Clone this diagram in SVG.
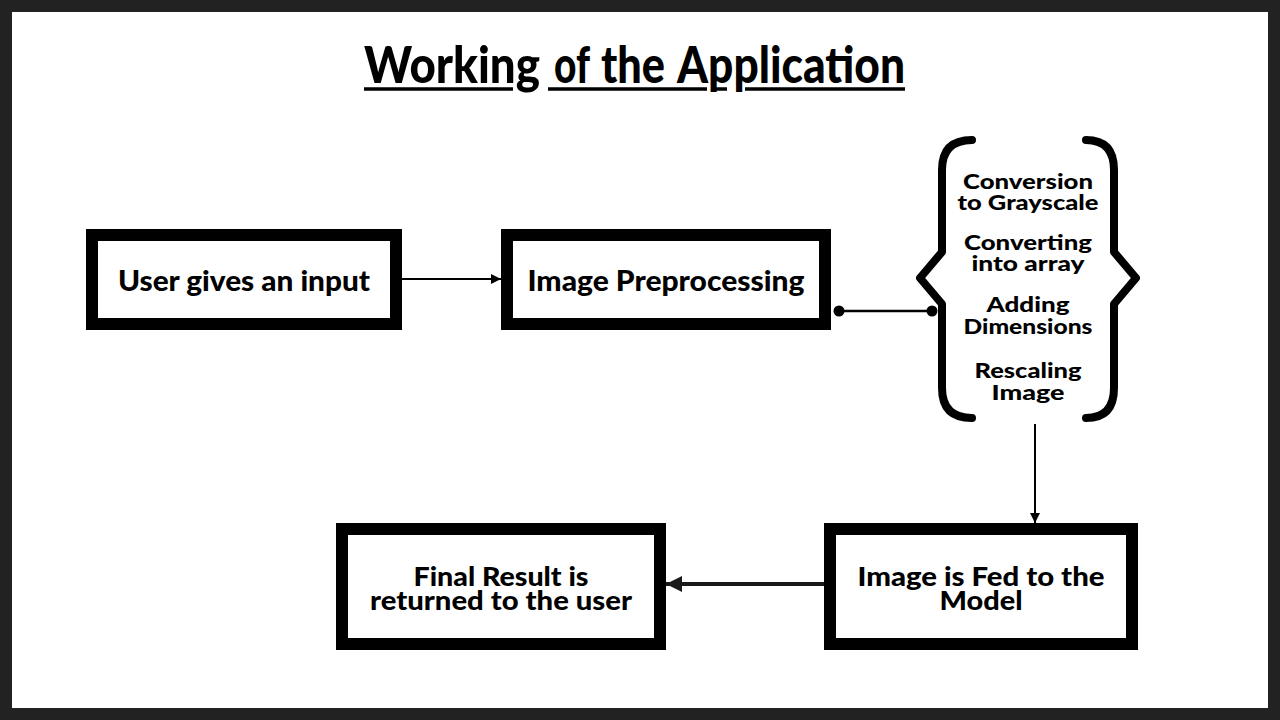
<svg xmlns="http://www.w3.org/2000/svg" width="1280" height="720" viewBox="0 0 1280 720">
<defs>
<style>
.box{fill:#fff;stroke:#000;stroke-width:12}
.t{font-family:Lato,"Liberation Sans",sans-serif;font-weight:900;fill:#000;text-anchor:middle}
.ts{font-family:Lato,"Liberation Sans",sans-serif;font-weight:900;fill:#000;font-size:51px}
.bt{font-size:28px}
.bt2{font-size:26px}
.st{font-size:21px}
.c{stroke:#000;fill:none}
</style>
<marker id="ah" viewBox="0 0 10 10" refX="10" refY="5" markerWidth="10" markerHeight="10" markerUnits="userSpaceOnUse" orient="auto">
<path d="M0,0 L10,5 L0,10 z" fill="#000"/>
</marker>
<marker id="ahb" viewBox="0 0 10 10" refX="10" refY="5" markerWidth="16" markerHeight="20" markerUnits="userSpaceOnUse" orient="auto">
<path d="M0,0 L10,5 L0,10 z" fill="#1a1a1a"/>
</marker>
</defs>
<rect x="0" y="0" width="1280" height="720" fill="#222"/>
<rect x="12" y="12" width="1256" height="696" fill="#fff"/>
<g id="title">
<text class="ts" x="364" y="83" textLength="176" lengthAdjust="spacingAndGlyphs">Working</text>
<text class="ts" x="554" y="83" textLength="36" lengthAdjust="spacingAndGlyphs">of</text>
<text class="ts" x="601" y="83" textLength="64" lengthAdjust="spacingAndGlyphs">the</text>
<text class="ts" x="677" y="83" textLength="228" lengthAdjust="spacingAndGlyphs">Application</text>
<path d="M364,89 H513 M548,89 H707 M713,89 H727 M745,89 H905" stroke="#000" stroke-width="3.5"/>
</g>
<g id="connectors">
<line class="c" x1="401" y1="279" x2="501" y2="279" stroke-width="2" marker-end="url(#ah)"/>
<line class="c" x1="839" y1="311" x2="932" y2="311" stroke-width="2.5"/>
<circle cx="839" cy="311" r="5.5" fill="#000"/>
<circle cx="932" cy="311" r="5.5" fill="#000"/>
<line class="c" x1="1035" y1="424" x2="1035" y2="523" stroke-width="2" stroke="#222" marker-end="url(#ah)"/>
<line x1="824" y1="584" x2="666" y2="584" stroke="#1a1a1a" stroke-width="4" marker-end="url(#ahb)"/>
</g>
<g id="user-input">
<rect class="box" x="92" y="235" width="304" height="89"/>
<text class="t bt" x="244" y="291" textLength="252" lengthAdjust="spacingAndGlyphs">User gives an input</text>
</g>
<g id="preprocessing">
<rect class="box" x="507" y="235" width="318" height="89"/>
<text class="t bt" x="666" y="291" textLength="277" lengthAdjust="spacingAndGlyphs">Image Preprocessing</text>
</g>
<g id="steps">
<path class="c" stroke-width="8" stroke-linecap="round" stroke-linejoin="round" d="M972,140 Q942,140 942,170 V252 L920,278 L942,304 V388 Q942,418 972,418"/>
<path class="c" stroke-width="8" stroke-linecap="round" stroke-linejoin="round" d="M1086,140 Q1114,140 1114,170 V252 L1136,278 L1114,304 V388 Q1114,418 1086,418"/>
<text class="t st" x="1028" y="189" textLength="130" lengthAdjust="spacingAndGlyphs">Conversion</text>
<text class="t st" x="1028" y="210" textLength="141" lengthAdjust="spacingAndGlyphs">to Grayscale</text>
<text class="t st" x="1028" y="250" textLength="128" lengthAdjust="spacingAndGlyphs">Converting</text>
<text class="t st" x="1028" y="271" textLength="113" lengthAdjust="spacingAndGlyphs">into array</text>
<text class="t st" x="1028" y="312" textLength="83" lengthAdjust="spacingAndGlyphs">Adding</text>
<text class="t st" x="1028" y="334" textLength="129" lengthAdjust="spacingAndGlyphs">Dimensions</text>
<text class="t st" x="1028" y="378" textLength="107" lengthAdjust="spacingAndGlyphs">Rescaling</text>
<text class="t st" x="1028" y="400" textLength="73" lengthAdjust="spacingAndGlyphs">Image</text>
</g>
<g id="model">
<rect class="box" x="830" y="529" width="302" height="115"/>
<text class="t bt2" x="981" y="586" textLength="247" lengthAdjust="spacingAndGlyphs">Image is Fed to the</text>
<text class="t bt2" x="981" y="610" textLength="83" lengthAdjust="spacingAndGlyphs">Model</text>
</g>
<g id="result">
<rect class="box" x="342" y="529" width="318" height="115"/>
<text class="t bt2" x="501" y="586" textLength="175" lengthAdjust="spacingAndGlyphs">Final Result is</text>
<text class="t bt2" x="501" y="610" textLength="262" lengthAdjust="spacingAndGlyphs">returned to the user</text>
</g>
</svg>
